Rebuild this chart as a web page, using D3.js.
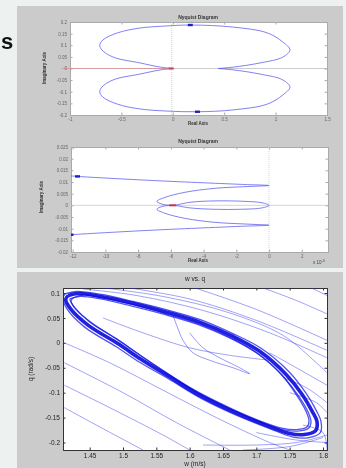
<!DOCTYPE html>
<html>
<head>
<meta charset="utf-8">
<script src="https://cdn.jsdelivr.net/npm/d3@7"></script>
<style>
body { margin: 0; background: #edf1f0; }
svg { display: block; font-family: "Liberation Sans", Arial, sans-serif; filter: blur(0.3px); }
</style>
</head>
<body>
<svg id="chart" width="346" height="468"></svg>
<script>
// ---- data ----
const nyqTopXTicks = [-1, -0.5, 0, 0.5, 1, 1.5];
const nyqTopYTicks = [0.2, 0.15, 0.1, 0.05, 0, -0.05, -0.1, -0.15, -0.2];
// [real, imag]
const nyqTopUpper = [[0, 0], [-0.12, 0.006], [-0.32, 0.024], [-0.58, 0.049], [-0.69, 0.080], [-0.71, 0.101],
  [-0.68, 0.123], [-0.54, 0.153], [-0.32, 0.174], [-0.06, 0.183], [0.17, 0.187], [0.59, 0.178], [0.92, 0.153],
  [1.07, 0.114], [1.14, 0.080], [1.07, 0.049], [0.85, 0.024], [0.59, 0.006], [0.44, 0]];
const nyqTopLower = [[0.44, 0], [0.59, -0.006], [0.85, -0.024], [1.07, -0.049], [1.14, -0.080], [1.07, -0.114],
  [0.92, -0.153], [0.59, -0.178], [0.24, -0.186], [-0.06, -0.183], [-0.32, -0.174], [-0.54, -0.153],
  [-0.68, -0.123], [-0.71, -0.101], [-0.69, -0.080], [-0.58, -0.049], [-0.32, -0.024], [-0.12, -0.006], [0, 0]];
const nyqTopArrows = [[0.17, 0.187], [0.24, -0.186]];

const nyqZoomXTicks = [-12, -10, -8, -6, -4, -2, 0, 2];          // x 10^-3
const nyqZoomYTicks = [0.025, 0.02, 0.015, 0.01, 0.005, 0, -0.005, -0.01, -0.015, -0.02];
const nyqZoomUpper = [[-12.6, 0.0129], [-11.7, 0.0124], [-7.27, 0.0107], [-1.77, 0.0090], [0, 0.0085],
  [-1.16, 0.0081], [-3.30, 0.0073], [-5.13, 0.0056], [-6.36, 0.0034], [-6.85, 0.0017], [-6.48, 0.0004], [-5.75, 0]];
const nyqZoomInner = [[-5.75, 0], [-4.83, 0.0013], [-3.30, 0.0019], [-1.47, 0.0017], [-0.43, 0.0011], [0, 0],
  [-0.43, -0.0011], [-1.77, -0.0017], [-3.30, -0.0017], [-4.83, -0.0011], [-5.75, 0]];
const nyqZoomLower = [[-5.75, 0], [-6.48, -0.0004], [-6.85, -0.0017], [-6.36, -0.0034], [-5.13, -0.0056],
  [-3.30, -0.0073], [-1.16, -0.0081], [0, -0.0085], [-1.77, -0.0090], [-7.27, -0.0107], [-11.7, -0.0124], [-12.6, -0.0128]];
const nyqZoomArrows = [[-11.7, 0.0124], [-12.1, -0.0126]];

const phaseXTicks = [1.45, 1.5, 1.55, 1.6, 1.65, 1.7, 1.75, 1.8];
const phaseYTicks = [0.1, 0.05, 0, -0.05, -0.1, -0.15, -0.2];
// [w, q]  strands of the thick limit-cycle band
const phaseMain = [[1.418, 0.095], [1.433, 0.099], [1.467, 0.093], [1.516, 0.079], [1.567, 0.061], [1.616, 0.041],
  [1.665, 0.013], [1.705, -0.017], [1.745, -0.064], [1.769, -0.104], [1.784, -0.138], [1.791, -0.158],
  [1.789, -0.176], [1.772, -0.184], [1.750, -0.182], [1.716, -0.166], [1.665, -0.138], [1.616, -0.106],
  [1.567, -0.066], [1.527, -0.033], [1.494, -0.003], [1.448, 0.035], [1.422, 0.067], [1.414, 0.087], [1.418, 0.095]];
const phaseMainB = [[1.425, 0.090], [1.440, 0.096], [1.470, 0.090], [1.520, 0.075], [1.570, 0.056], [1.620, 0.035],
  [1.668, 0.006], [1.706, -0.025], [1.742, -0.070], [1.764, -0.108], [1.778, -0.140], [1.782, -0.160],
  [1.778, -0.172], [1.762, -0.177], [1.740, -0.174], [1.708, -0.160], [1.660, -0.132], [1.612, -0.100],
  [1.565, -0.060], [1.528, -0.027], [1.497, 0.002], [1.455, 0.038], [1.430, 0.066], [1.422, 0.084], [1.425, 0.090]];
const phaseMainC = [[1.413, 0.098], [1.430, 0.103], [1.468, 0.097], [1.515, 0.083], [1.566, 0.066], [1.615, 0.047],
  [1.664, 0.019], [1.706, -0.010], [1.749, -0.058], [1.774, -0.100], [1.790, -0.136], [1.797, -0.158],
  [1.796, -0.180], [1.779, -0.190], [1.755, -0.189], [1.720, -0.172], [1.668, -0.144], [1.618, -0.112],
  [1.568, -0.072], [1.525, -0.039], [1.490, -0.008], [1.442, 0.032], [1.416, 0.068], [1.410, 0.090], [1.413, 0.098]];
const phaseMainD = [[1.420, 0.088], [1.436, 0.093], [1.466, 0.088], [1.512, 0.074], [1.562, 0.057], [1.612, 0.037],
  [1.660, 0.010], [1.700, -0.020], [1.738, -0.064], [1.760, -0.104], [1.774, -0.136], [1.779, -0.156],
  [1.776, -0.169], [1.760, -0.174], [1.738, -0.171], [1.704, -0.156], [1.656, -0.128], [1.606, -0.094],
  [1.558, -0.054], [1.520, -0.020], [1.488, 0.010], [1.450, 0.042], [1.428, 0.070], [1.422, 0.082], [1.420, 0.088]];
const phaseInner = [[1.575, 0.055], [1.582, 0.030], [1.590, 0.005], [1.605, -0.020], [1.630, -0.035],
  [1.665, -0.050], [1.690, -0.062], [1.675, -0.050], [1.645, -0.030], [1.620, -0.010], [1.600, 0.020]];
const phaseTraj = [
  [[1.440, 0.108], [1.520, 0.095], [1.620, 0.065], [1.720, 0.020], [1.806, -0.030]],
  [[1.500, 0.112], [1.600, 0.088], [1.700, 0.045], [1.806, -0.015]],
  [[1.597, 0.115], [1.700, 0.067], [1.806, 0.005]],
  [[1.700, 0.115], [1.760, 0.085], [1.806, 0.058]],
  [[1.775, 0.115], [1.806, 0.095]],
  [[1.460, 0.112], [1.560, 0.093], [1.660, 0.060], [1.740, 0.015], [1.790, -0.040], [1.806, -0.060]],
  [[1.720, -0.020], [1.760, -0.050], [1.806, -0.085]],
  [[1.740, -0.070], [1.775, -0.090], [1.806, -0.120]],
  [[1.750, -0.100], [1.790, -0.120], [1.806, -0.140]],
  [[1.470, 0.050], [1.530, 0.020], [1.600, -0.010], [1.660, -0.025], [1.720, -0.035]],
  [[1.412, -0.040], [1.500, -0.100], [1.580, -0.160], [1.660, -0.215]],
  [[1.412, -0.085], [1.480, -0.130], [1.560, -0.185], [1.600, -0.215]],
  [[1.412, -0.130], [1.460, -0.165], [1.530, -0.215]],
  [[1.412, 0.000], [1.480, -0.040], [1.560, -0.095], [1.640, -0.150], [1.720, -0.200], [1.750, -0.215]],
  [[1.620, -0.205], [1.700, -0.205], [1.760, -0.200], [1.806, -0.185]],
  [[1.680, -0.215], [1.750, -0.208], [1.800, -0.190]],
  [[1.700, -0.180], [1.760, -0.195], [1.806, -0.200]],
  [[1.770, -0.165], [1.800, -0.180], [1.806, -0.215]]
];

const svg = d3.select("#chart");

// figure backgrounds
svg.append("rect").attr("x", 17).attr("y", 6).attr("width", 326).attr("height", 262).attr("fill", "#cbcbcb");
svg.append("rect").attr("x", 17).attr("y", 272).attr("width", 326).attr("height", 196).attr("fill", "#cbcbcb");

// cropped letter from surrounding page
svg.append("text").attr("x", 1).attr("y", 49).attr("font-size", 22).attr("font-weight", "bold")
  .attr("fill", "#111").text("s");

// MATLAB style plain numbers: 0.1, 1.5, -0.05
const plain = d => String(d);

function axesBox(g, x, y, xt, yt, opt) {
  const [x0, x1] = x.range(), [y1, y0] = y.range();
  g.append("rect").attr("x", x0).attr("y", y0).attr("width", x1 - x0).attr("height", y1 - y0).attr("fill", "#fff");
  const ax = (a, tr) => {
    const s = g.append("g").attr("transform", tr).call(a);
    s.select(".domain").attr("stroke", opt.line);
    s.selectAll(".tick line").attr("stroke", opt.line);
    s.selectAll("text").attr("font-size", opt.fs).attr("fill", opt.col).attr("font-family", null);
    return s;
  };
  ax(d3.axisBottom(x).tickValues(xt).tickSize(-opt.tick).tickPadding(opt.pad).tickFormat(plain), `translate(0,${y1})`);
  ax(d3.axisTop(x).tickValues(xt).tickSize(-opt.tick).tickFormat(""), `translate(0,${y0})`);
  ax(d3.axisLeft(y).tickValues(yt).tickSize(-opt.tick).tickPadding(opt.pad).tickFormat(plain), `translate(${x0},0)`);
  ax(d3.axisRight(y).tickValues(yt).tickSize(-opt.tick).tickFormat(""), `translate(${x1},0)`);
}

function clipFor(id, x, y) {
  const [x0, x1] = x.range(), [y1, y0] = y.range();
  svg.append("clipPath").attr("id", id).append("rect")
    .attr("x", x0).attr("y", y0).attr("width", x1 - x0).attr("height", y1 - y0);
  return "url(#" + id + ")";
}

function label(g, txt, x, y, fs, rot, bold) {
  g.append("text").attr("transform", `translate(${x},${y})` + (rot ? " rotate(-90)" : ""))
    .attr("text-anchor", "middle").attr("font-size", fs).attr("font-weight", bold ? "bold" : null)
    .attr("fill", bold ? "#333" : "#222").text(txt);
}

const nyqOpt = { fs: 4.5, col: "#666", line: "#aaa", tick: 2.5, pad: 3 };
const nyqColor = "#5a5aee";

// ---- panel 1 : Nyquist diagram ----
{
  const x = d3.scaleLinear().domain([-1, 1.5]).range([70, 327]);
  const y = d3.scaleLinear().domain([-0.2, 0.2]).range([115, 22]);
  const g = svg.append("g");
  axesBox(g, x, y, nyqTopXTicks, nyqTopYTicks, nyqOpt);
  const p = g.append("g").attr("clip-path", clipFor("c1", x, y));
  p.append("line").attr("x1", x(-1)).attr("x2", x(1.5)).attr("y1", y(0)).attr("y2", y(0))
    .attr("stroke", "#aaa").attr("stroke-width", 0.6);
  p.append("line").attr("x1", x(-0.01)).attr("x2", x(-0.01)).attr("y1", y(0.2)).attr("y2", y(-0.2))
    .attr("stroke", "#ccc").attr("stroke-width", 0.8).attr("stroke-dasharray", "1,1");
  g.append("line").attr("x1", x(-1.08)).attr("x2", x(-0.01)).attr("y1", y(0)).attr("y2", y(0))
    .attr("stroke", "#e06070").attr("stroke-width", 0.6).attr("opacity", 0.7);
  const line = d3.line().x(d => x(d[0])).y(d => y(d[1])).curve(d3.curveCatmullRom.alpha(0.5));
  [nyqTopUpper, nyqTopLower].forEach(d => p.append("path").attr("d", line(d)).attr("fill", "none")
    .attr("stroke", nyqColor).attr("stroke-width", 0.9).attr("opacity", 0.85));
  p.selectAll(".arr").data(nyqTopArrows).join("rect").attr("x", d => x(d[0]) - 2.5).attr("y", d => y(d[1]) - 1.2)
    .attr("width", 5).attr("height", 2.4).attr("fill", "#2020c0");
  p.append("rect").attr("x", x(-0.04)).attr("y", y(0) - 1).attr("width", 5).attr("height", 2).attr("fill", "#d03050");
  label(g, "Nyquist Diagram", 198, 18.5, 5, false, true);
  label(g, "Real Axis", 198, 125, 4.5, false, true);
  label(g, "Imaginary Axis", 46, 68, 4.5, true, true);
}

// ---- panel 2 : zoomed Nyquist ----
{
  const x = d3.scaleLinear().domain([-12.1, 3.6]).range([71, 328]);
  const y = d3.scaleLinear().domain([-0.02, 0.025]).range([252, 147]);
  const g = svg.append("g");
  axesBox(g, x, y, nyqZoomXTicks, nyqZoomYTicks, nyqOpt);
  const p = g.append("g").attr("clip-path", clipFor("c2", x, y));
  p.append("line").attr("x1", x(-12.1)).attr("x2", x(3.6)).attr("y1", y(0)).attr("y2", y(0))
    .attr("stroke", "#bbb").attr("stroke-width", 0.6);
  p.append("line").attr("x1", x(0)).attr("x2", x(0)).attr("y1", y(0.025)).attr("y2", y(-0.02))
    .attr("stroke", "#ccc").attr("stroke-width", 0.8).attr("stroke-dasharray", "1,1");
  const line = d3.line().x(d => x(d[0])).y(d => y(d[1])).curve(d3.curveCatmullRom.alpha(0.5));
  [nyqZoomUpper, nyqZoomInner, nyqZoomLower].forEach(d => p.append("path").attr("d", line(d)).attr("fill", "none")
    .attr("stroke", nyqColor).attr("stroke-width", 0.9).attr("opacity", 0.85));
  p.selectAll(".arr").data(nyqZoomArrows).join("rect").attr("x", d => x(d[0]) - 2.5).attr("y", d => y(d[1]) - 1.2)
    .attr("width", 5).attr("height", 2.4).attr("fill", "#2020c0");
  p.append("rect").attr("x", x(-6.1)).attr("y", y(0) - 1).attr("width", 7).attr("height", 2).attr("fill", "#d03050");
  label(g, "Nyquist Diagram", 198, 142.5, 5, false, true);
  label(g, "Real Axis", 198, 262, 4.5, false, true);
  label(g, "Imaginary Axis", 43, 197, 4.5, true, true);
  const e = g.append("text").attr("x", 313).attr("y", 264).attr("font-size", 4.5).attr("fill", "#444");
  e.append("tspan").text("x 10");
  e.append("tspan").attr("dy", -2).attr("font-size", 3.5).text("-3");
}

// ---- panel 3 : w vs. q ----
{
  const x = d3.scaleLinear().domain([1.41, 1.806]).range([63, 327]);
  const y = d3.scaleLinear().domain([-0.215, 0.11]).range([450, 288]);
  const g = svg.append("g");
  axesBox(g, x, y, phaseXTicks, phaseYTicks, { fs: 6.5, col: "#222", line: "#333", tick: 2.5, pad: 3 });
  const p = g.append("g").attr("clip-path", clipFor("c3", x, y));
  const line = d3.line().x(d => x(d[0])).y(d => y(d[1])).curve(d3.curveCatmullRom.alpha(0.5));
  const draw = (d, w, o, c) => p.append("path").attr("d", line(d)).attr("fill", "none")
    .attr("stroke", c).attr("stroke-width", w).attr("opacity", o);
  phaseTraj.forEach(d => draw(d, 0.8, 0.55, "#2a2af0"));
  draw(phaseInner, 0.8, 0.6, "#2a2af0");
  [phaseMainB, phaseMainC, phaseMainD].forEach(d => draw(d, 1.3, 0.75, "#1a1aee"));
  draw(phaseMain, 3.6, 0.9, "#0808dc");
  label(g, "w vs. q", 195, 281, 6.5, false, false);
  label(g, "w (m/s)", 195, 465.5, 6.5, false, false);
  label(g, "q (rad/s)", 33, 369, 6.5, true, false);
}
</script>
</body>
</html>
